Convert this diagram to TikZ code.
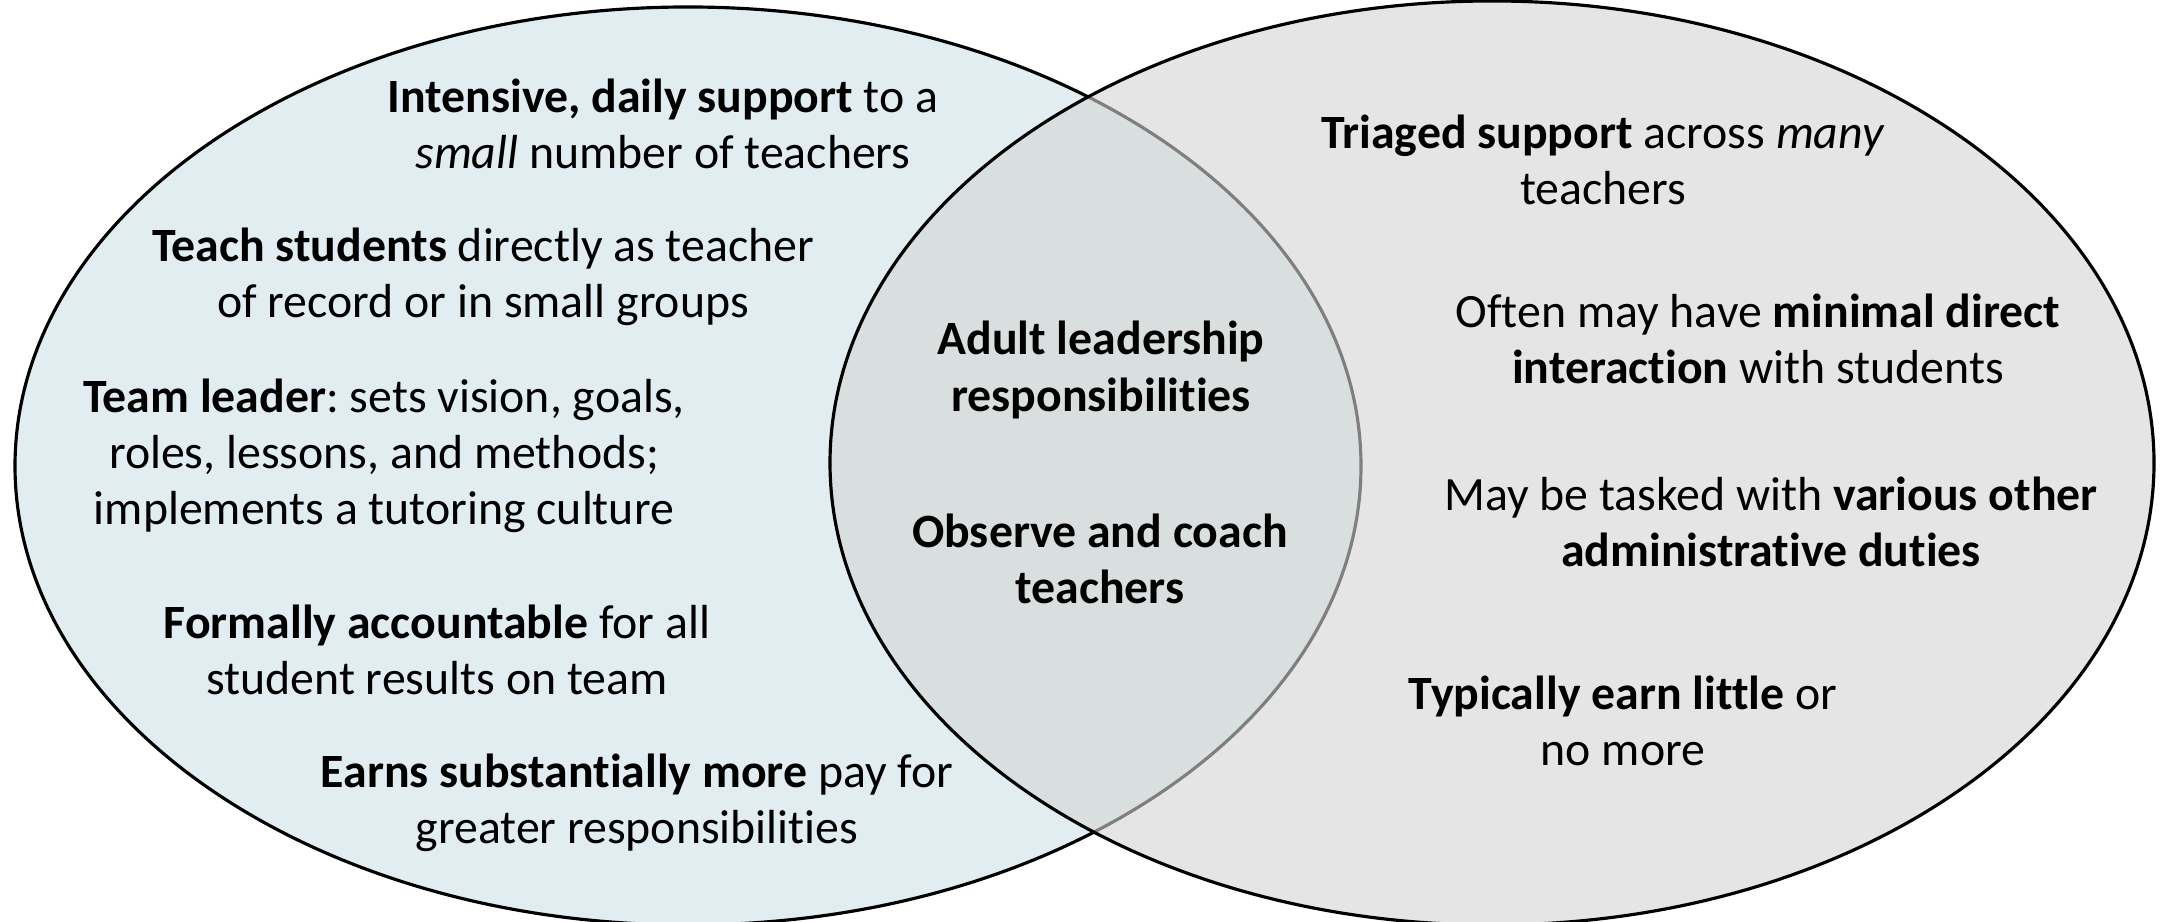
\documentclass[tikz,border=0pt]{standalone}
\usepackage{fontspec}
\setmainfont{Carlito}[Ligatures={NoCommon}]
\frenchspacing

\definecolor{leftblue}{RGB}{225,237,241}
\definecolor{rightgray}{RGB}{212,212,212}

\tikzset{
  txt/.style={align=center, inner sep=0pt, font=\fontsize{13.6}{16}\selectfont},
  midtxt/.style={txt, font=\fontsize{13.6}{16}\selectfont\bfseries}
}

\begin{document}
\begin{tikzpicture}
            \useasboundingbox (0,0) rectangle (21.68,9.22);

            \filldraw[fill=leftblue, draw=black, line width=0.9pt] (6.88,4.56) ellipse [x radius=6.73, y radius=4.59];
            \filldraw[fill=rightgray, fill opacity=0.6, draw=black, line width=0.9pt] (14.92,4.59) ellipse [x radius=6.62, y radius=4.62];

            \node[txt] (support) at (6.63,7.98) {\textbf{Intensive, daily support} to a\\\textit{small} number of teachers};
            \node[txt] (teach) at (4.83,6.45) {\textbf{Teach students} directly as teacher\\of record or in small groups};
            \node[txt] (leader) at (3.84,4.66) {\textbf{Team leader}: sets vision, goals,\\roles, lessons, and methods;\\implements a tutoring culture};
            \node[txt] (account) at (4.37,2.72) {\textbf{Formally accountable} for all\\student results on team};
            \node[txt] (earns) at (6.37,1.19) {\textbf{Earns substantially more} pay for\\greater responsibilities};

            \node[midtxt] (adult) at (11.01,5.52) {Adult leadership\\responsibilities};
            \node[midtxt] (coach) at (11.00,3.63) {Observe and coach\\teachers};

            \node[txt] (triaged) at (16.03,7.62) {\textbf{Triaged support} across \textit{many}\\teachers};
            \node[txt] (minimal) at (17.58,5.83) {Often may have \textbf{minimal direct}\\\textbf{interaction} with students};
            \node[txt] (duties) at (17.71,4.00) {May be tasked with \textbf{various other}\\\textbf{administrative duties}};
            \node[txt] (little) at (16.23,2.01) {\textbf{Typically earn little} or\\no more};
        \end{tikzpicture}
\end{document}
